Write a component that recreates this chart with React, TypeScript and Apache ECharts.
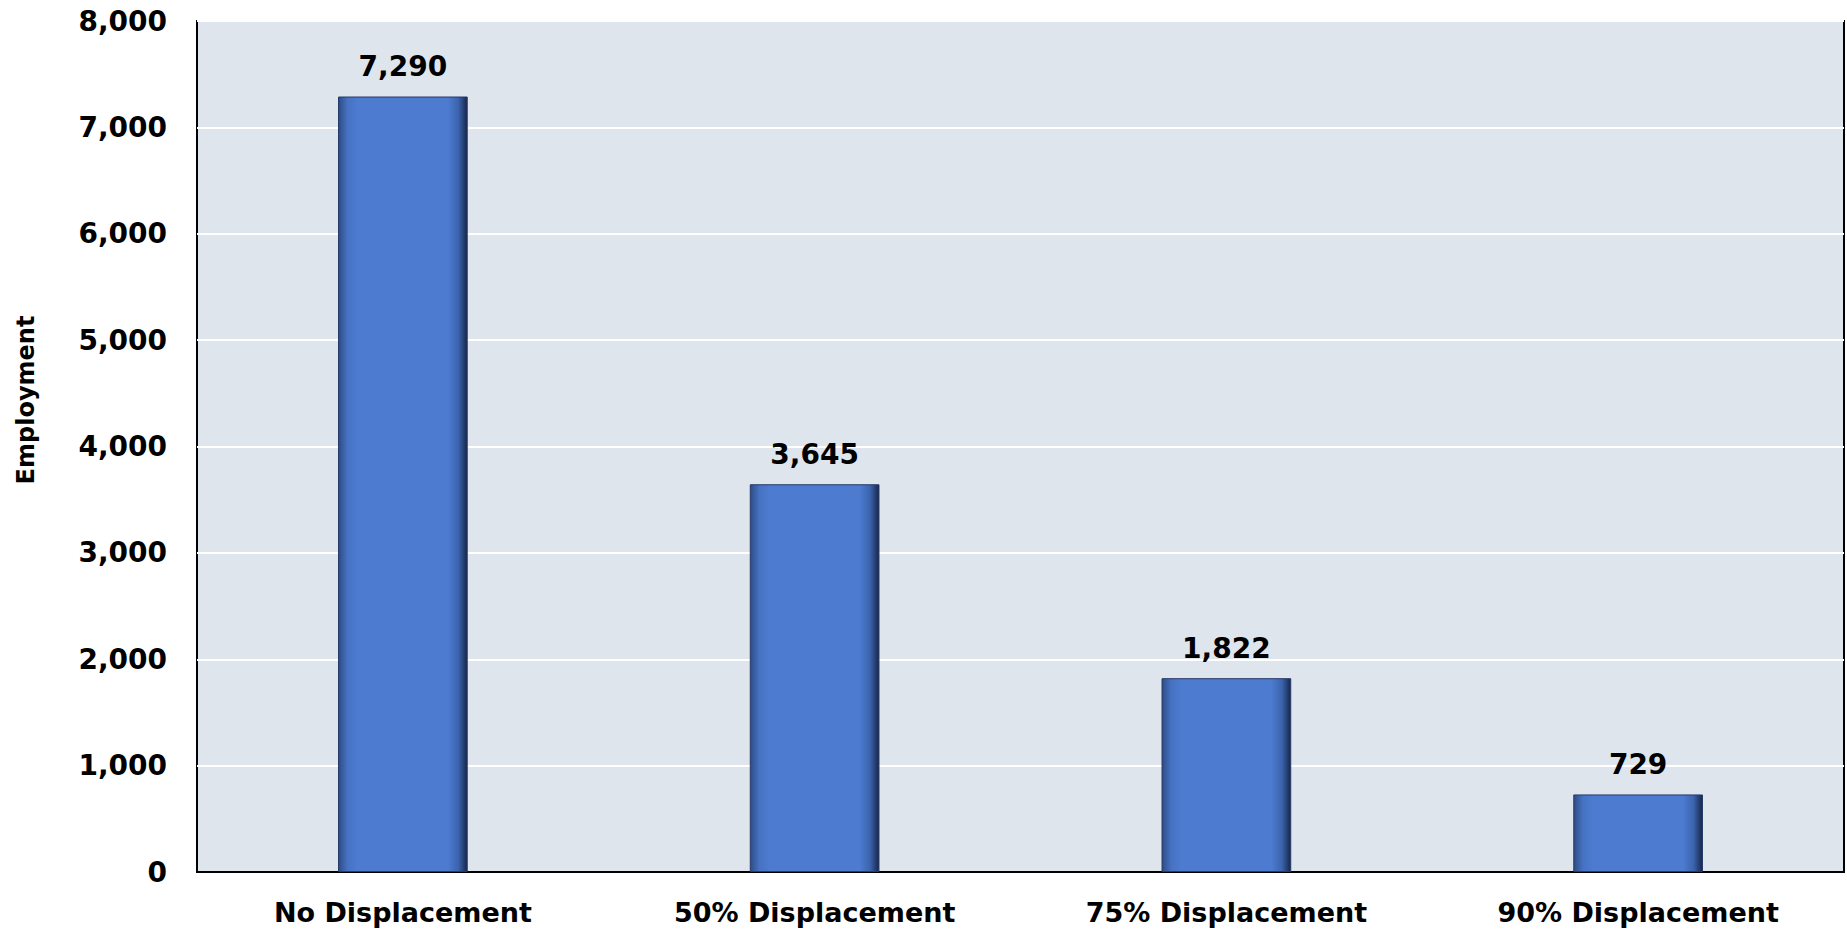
import React, { useEffect, useRef } from "react";
import * as echarts from "echarts";

const categories = ["No Displacement", "50% Displacement", "75% Displacement", "90% Displacement"];
const employment = [7290, 3645, 1822, 729];
const yTicks = { min: 0, max: 8000, interval: 1000 };

const FONT = "'DejaVu Sans', sans-serif";

export default function App() {
  const ref = useRef<HTMLDivElement>(null);
  useEffect(() => {
    document.body.style.margin = "0";
    const chart = echarts.init(ref.current!, null, { renderer: "svg" });
    chart.setOption({
      animation: false,
      backgroundColor: "#ffffff",
      grid: {
        left: 197,
        top: 21,
        right: 3,
        bottom: 62,
        show: true,
        backgroundColor: "#DEE5ED",
        borderColor: "#000000",
        borderWidth: 2,
      },
      graphic: [
        {
          type: "text",
          x: 26,
          y: 400,
          rotation: Math.PI / 2,
          style: {
            text: "Employment",
            fontFamily: FONT,
            fontWeight: "bold",
            fontSize: 24,
            fill: "#000",
            align: "center",
            verticalAlign: "middle",
          },
        },
      ],
      xAxis: {
        type: "category",
        data: categories,
        axisLine: { show: true, lineStyle: { color: "#000", width: 2 } },
        axisTick: { show: false },
        axisLabel: {
          margin: 27,
          fontFamily: FONT,
          fontWeight: "bold",
          fontSize: 27,
          color: "#000",
        },
      },
      yAxis: {
        type: "value",
        min: yTicks.min,
        max: yTicks.max,
        interval: yTicks.interval,
        axisLine: { show: false },
        axisTick: { show: false },
        splitLine: { show: true, lineStyle: { color: "#ffffff", width: 2 } },
        axisLabel: {
          margin: 30,
          fontFamily: FONT,
          fontWeight: "bold",
          fontSize: 28,
          color: "#000",
          formatter: (v: number) => v.toLocaleString("en-US"),
        },
      },
      series: [
        {
          type: "bar",
          data: employment,
          barWidth: "31.5%",
          itemStyle: {
            color: {
              type: "linear",
              x: 0,
              y: 0,
              x2: 1,
              y2: 0,
              colorStops: [
                { offset: 0, color: "#2E4C85" },
                { offset: 0.07, color: "#4672C2" },
                { offset: 0.15, color: "#4C7BD0" },
                { offset: 0.85, color: "#4C7BD0" },
                { offset: 0.93, color: "#3C64AE" },
                { offset: 1, color: "#17264A" },
              ],
            },
            borderColor: "#26396A",
            borderWidth: 1,
          },
          label: {
            show: true,
            position: "top",
            distance: 16,
            fontFamily: FONT,
            fontWeight: "bold",
            fontSize: 28,
            color: "#000",
            formatter: (p: any) => Number(p.value).toLocaleString("en-US"),
          },
        },
      ],
    });
    return () => chart.dispose();
  }, []);
  return <div ref={ref} style={{ width: 1847, height: 934 }} />;
}
